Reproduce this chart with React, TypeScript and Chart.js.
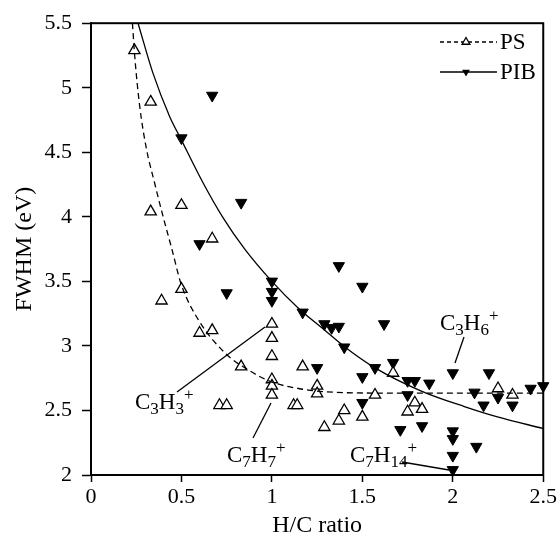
import React, { useEffect, useRef } from "react";
import { Chart, registerables } from "chart.js";
Chart.register(...registerables);

// PS data (open up-triangles)
const psX = [0.24, 0.33, 0.33, 0.5, 0.67, 0.5, 0.39, 0.6, 0.67, 1.0, 1.0, 1.0, 0.83, 1.17, 1.0, 1.0, 1.0, 1.25, 1.25, 0.71, 0.75, 1.12, 1.14, 1.29, 1.37, 1.4, 1.5, 1.57, 1.67, 1.75, 1.79, 1.83, 2.25, 2.33];
const psY = [5.29, 4.89, 4.04, 4.09, 3.83, 3.44, 3.35, 3.1, 3.12, 3.17, 3.06, 2.92, 2.84, 2.84, 2.74, 2.69, 2.62, 2.69, 2.63, 2.54, 2.54, 2.54, 2.54, 2.37, 2.42, 2.5, 2.45, 2.62, 2.79, 2.49, 2.56, 2.51, 2.67, 2.62];

// PIB data (filled down-triangles)
const pibX = [0.67, 0.5, 0.83, 0.6, 0.75, 1.0, 1.0, 1.0, 1.17, 1.37, 1.5, 1.62, 1.29, 1.33, 1.37, 1.4, 1.25, 1.5, 1.57, 1.67, 1.75, 1.79, 1.87, 2.0, 2.2, 2.12, 2.25, 2.33, 2.43, 2.5, 1.75, 1.5, 2.17, 1.71, 1.83, 2.0, 2.0, 2.0, 2.0, 2.13];
const pibY = [4.94, 4.61, 4.11, 3.79, 3.41, 3.5, 3.42, 3.35, 3.26, 3.62, 3.46, 3.17, 3.17, 3.14, 3.15, 2.99, 2.83, 2.76, 2.83, 2.87, 2.73, 2.73, 2.71, 2.79, 2.79, 2.64, 2.6, 2.54, 2.67, 2.69, 2.62, 2.56, 2.54, 2.35, 2.38, 2.34, 2.28, 2.15, 2.04, 2.22];

// Fitted curves
const psFitX = [0.229, 0.242, 0.269, 0.306, 0.352, 0.397, 0.449, 0.498, 0.599, 0.745, 0.874, 1.0, 1.148, 1.295, 1.6, 2.0, 2.5];
const psFitY = [5.5, 5.24, 4.86, 4.53, 4.26, 4.01, 3.74, 3.48, 3.19, 2.94, 2.81, 2.72, 2.67, 2.645, 2.635, 2.635, 2.635];
const pibFitX = [0.26, 0.342, 0.434, 0.498, 0.617, 0.727, 0.85, 1.0, 1.148, 1.276, 1.405, 1.57, 1.826, 2.064, 2.247, 2.5];
const pibFitY = [5.5, 5.115, 4.78, 4.6, 4.27, 4.0, 3.75, 3.5, 3.29, 3.14, 2.99, 2.83, 2.65, 2.53, 2.45, 2.36];

const xTicks = [0, 0.5, 1, 1.5, 2, 2.5];
const yTicks = [2, 2.5, 3, 3.5, 4, 4.5, 5, 5.5];

let FONT = "'Liberation Serif'";

function pickFont() {
  const c = document.createElement("canvas").getContext("2d") as CanvasRenderingContext2D;
  const sample = "H/C ratio FWHM 0123456789";
  c.font = "40px 'DejaVu Serif'";
  const dv = c.measureText(sample).width;
  c.font = "40px monospace";
  const mono = c.measureText(sample).width;
  const cands = ["'Liberation Serif'", "Liberation Serif", "'Times New Roman'", "Tinos", "Times", "'Nimbus Roman'", "'Noto Serif'"];
  for (const f of cands) {
    c.font = `40px ${f}, monospace`;
    const w = c.measureText(sample).width;
    if (Math.abs(w - dv) > 1 && Math.abs(w - mono) > 1) return f;
  }
  return "serif";
}

function drawFormula(ctx: CanvasRenderingContext2D, parts: [string, string][], x: number, y: number) {
  let cx = x;
  for (const [t, kind] of parts) {
    if (kind === "n") {
      ctx.font = `23px ${FONT}`;
      ctx.fillText(t, cx, y);
    } else if (kind === "b") {
      ctx.font = `17px ${FONT}`;
      ctx.fillText(t, cx, y + 5);
    } else {
      ctx.font = `17px ${FONT}`;
      ctx.fillText(t, cx, y - 9);
    }
    cx += ctx.measureText(t).width;
  }
}

function line(ctx: CanvasRenderingContext2D, x1: number, y1: number, x2: number, y2: number) {
  ctx.beginPath();
  ctx.moveTo(x1, y1);
  ctx.lineTo(x2, y2);
  ctx.stroke();
}

const overlay = {
  id: "overlay",
  afterDatasetsDraw(chart: any) {
    const ctx = chart.ctx as CanvasRenderingContext2D;
    const a = chart.chartArea;
    ctx.save();
    ctx.strokeStyle = "#000";
    ctx.fillStyle = "#000";
    ctx.lineWidth = 2;
    ctx.strokeRect(a.left, a.top, a.right - a.left, a.bottom - a.top);

    ctx.textBaseline = "alphabetic";
    ctx.textAlign = "center";
    ctx.font = `24px ${FONT}`;
    ctx.fillText("H/C ratio", (a.left + a.right) / 2, 532);
    ctx.save();
    ctx.translate(31, (a.top + a.bottom) / 2);
    ctx.rotate(-Math.PI / 2);
    ctx.fillText("FWHM (eV)", 0, 0);
    ctx.restore();

    ctx.textAlign = "left";
    ctx.lineWidth = 1.3;
    drawFormula(ctx, [["C", "n"], ["3", "b"], ["H", "n"], ["3", "b"], ["+", "p"]], 135, 409);
    line(ctx, 177, 392, 265, 327);
    drawFormula(ctx, [["C", "n"], ["7", "b"], ["H", "n"], ["7", "b"], ["+", "p"]], 227, 462);
    line(ctx, 253, 438, 271, 403);
    drawFormula(ctx, [["C", "n"], ["7", "b"], ["H", "n"], ["14", "b"], ["+", "p"]], 350, 462);
    line(ctx, 402, 462, 449, 470);
    drawFormula(ctx, [["C", "n"], ["3", "b"], ["H", "n"], ["6", "b"], ["+", "p"]], 440, 330);
    line(ctx, 464, 337, 455, 363);

    // legend
    ctx.lineWidth = 1.3;
    ctx.setLineDash([4, 3]);
    line(ctx, 440, 42, 497, 42);
    ctx.setLineDash([]);
    line(ctx, 440, 72, 497, 72);
    const r = 4.5;
    ctx.beginPath();
    ctx.moveTo(466, 42 - r);
    ctx.lineTo(466 + r * 0.866, 42 + r * 0.5);
    ctx.lineTo(466 - r * 0.866, 42 + r * 0.5);
    ctx.closePath();
    ctx.fillStyle = "#fff";
    ctx.fill();
    ctx.stroke();
    ctx.fillStyle = "#000";
    ctx.beginPath();
    ctx.moveTo(466, 72 + r);
    ctx.lineTo(466 + r * 0.866, 72 - r * 0.5);
    ctx.lineTo(466 - r * 0.866, 72 - r * 0.5);
    ctx.closePath();
    ctx.fill();
    ctx.font = `23px ${FONT}`;
    ctx.fillText("PS", 500, 49);
    ctx.fillText("PIB", 500, 79);
    ctx.restore();
  },
};

export default function App() {
  const ref = useRef<HTMLCanvasElement | null>(null);
  useEffect(() => {
    document.body.style.margin = "0";
    let chart: Chart | null = null;
    let cancelled = false;
    const make = () => {
      if (cancelled || !ref.current) return;
      FONT = pickFont();
      const ps = psX.map((x, i) => ({ x, y: psY[i] }));
      const pib = pibX.map((x, i) => ({ x, y: pibY[i] }));
      const psFit = psFitX.map((x, i) => ({ x, y: psFitY[i] }));
      const pibFit = pibFitX.map((x, i) => ({ x, y: pibFitY[i] }));
      chart = new Chart(ref.current, {
        type: "scatter",
        data: {
          datasets: [
            {
              label: "PS fit",
              data: psFit,
              showLine: true,
              borderColor: "#000",
              borderWidth: 1.3,
              borderDash: [6, 4],
              pointRadius: 0,
              cubicInterpolationMode: "monotone",
            } as any,
            {
              label: "PIB fit",
              data: pibFit,
              showLine: true,
              borderColor: "#000",
              borderWidth: 1.3,
              pointRadius: 0,
              cubicInterpolationMode: "monotone",
            } as any,
            {
              label: "PS",
              data: ps,
              pointStyle: "triangle",
              pointRadius: 6.5,
              backgroundColor: "#fff",
              borderColor: "#000",
              borderWidth: 1.3,
              clip: false,
            } as any,
            {
              label: "PIB",
              data: pib,
              pointStyle: "triangle",
              rotation: 180,
              pointRadius: 6.5,
              backgroundColor: "#000",
              borderColor: "#000",
              borderWidth: 1,
              clip: false,
            } as any,
          ],
        },
        options: {
          responsive: false,
          animation: false,
          devicePixelRatio: 1,
          layout: { padding: { top: 20, right: 13, left: 0, bottom: 0 } },
          plugins: { legend: { display: false }, tooltip: { enabled: false } },
          scales: {
            x: {
              type: "linear",
              min: 0,
              max: 2.5,
              afterFit: (s: any) => { s.height = 63; },
              afterBuildTicks: (s: any) => { s.ticks = xTicks.map((v) => ({ value: v })); },
              ticks: { color: "#000", font: { family: FONT, size: 22 }, padding: 2, maxRotation: 0, callback: (v: any) => String(v) },
              grid: { drawOnChartArea: false, tickLength: 7, color: "#000", tickWidth: 1.5 },
              border: { color: "#000", width: 2 },
            },
            y: {
              type: "linear",
              min: 2,
              max: 5.5,
              afterFit: (s: any) => { s.width = 91; },
              afterBuildTicks: (s: any) => { s.ticks = yTicks.map((v) => ({ value: v })); },
              ticks: { color: "#000", font: { family: FONT, size: 22 }, padding: 10, callback: (v: any) => String(v) },
              grid: { drawOnChartArea: false, tickLength: 9, color: "#000", tickWidth: 1.5 },
              border: { color: "#000", width: 2 },
            },
          },
        },
        plugins: [overlay],
      });
    };
    const fonts = (document as any).fonts;
    if (fonts && fonts.load) {
      Promise.all([fonts.load("22px 'Liberation Serif'"), fonts.load("22px 'Times New Roman'")]).then(make, make);
    } else {
      make();
    }
    return () => {
      cancelled = true;
      if (chart) chart.destroy();
    };
  }, []);
  return (
    <div style={{ position: "absolute", left: 0, top: 0, width: 559, height: 538, background: "#fff" }}>
      <canvas ref={ref} width={559} height={538} style={{ width: 559, height: 538 }} />
    </div>
  );
}
